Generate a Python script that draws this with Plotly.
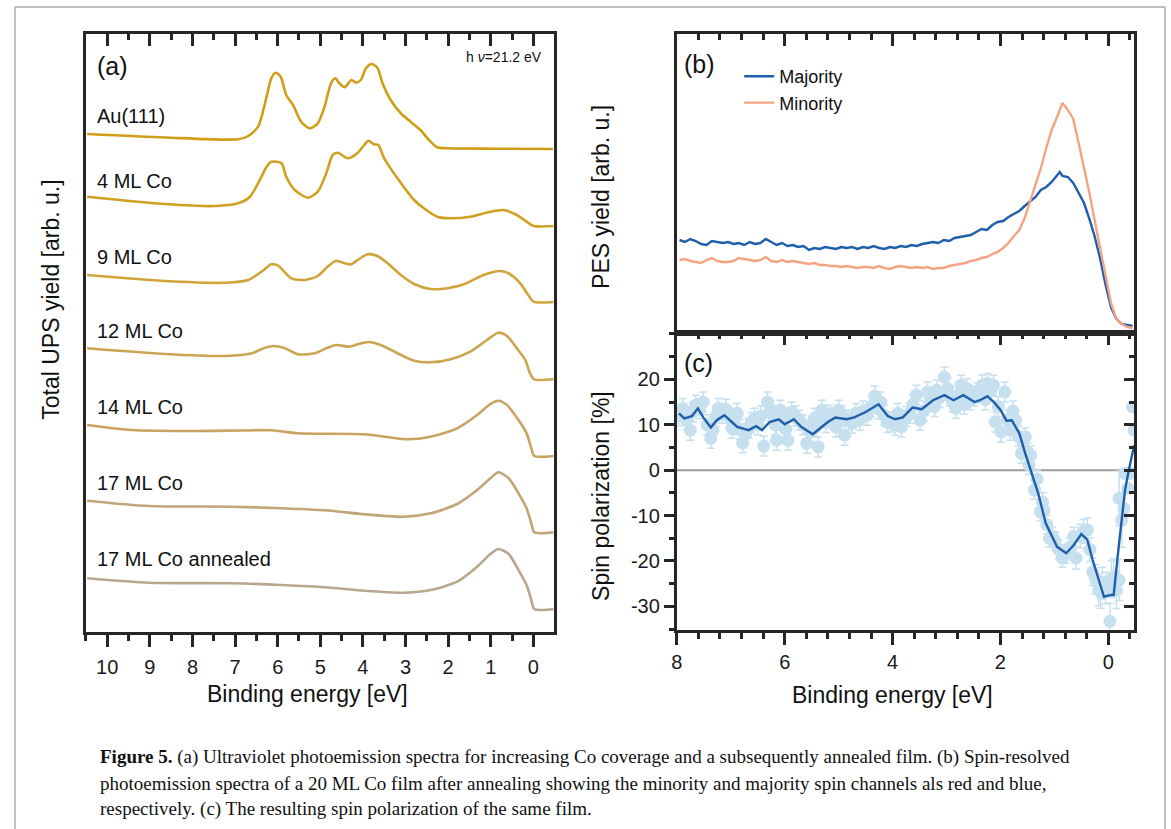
import plotly.graph_objects as go

W, H = 1171, 829

# ---------------- Panel (a): UPS spectra (arb. units) ----------------
labels_a = ["Au(111)", "4 ML Co", "9 ML Co", "12 ML Co", "14 ML Co", "17 ML Co", "17 ML Co annealed"]
colors_a = ["rgb(208,158,22)", "rgb(208,160,32)", "rgb(208,164,58)", "rgb(204,164,82)",
            "rgb(200,163,98)", "rgb(194,165,118)", "rgb(184,167,142)"]

e_au = [10.47, 8.64, 6.93, 6.69, 6.46, 6.26, 6.15, 6.05, 5.93, 5.80, 5.64, 5.45, 5.25, 5.06, 4.90, 4.75,
        4.65, 4.55, 4.43, 4.27, 4.16, 4.05, 3.93, 3.80, 3.66, 3.54, 3.35, 3.11, 2.88, 2.65, 2.45, 2.26,
        2.02, 0.86, -0.46]
y_au = [498, 494.5, 492.7, 496, 505.3, 535.3, 553.7, 559.3, 555.3, 537, 527, 510.3, 503.7, 508.7, 525.3,
        548.7, 553.7, 548.7, 544.7, 552, 549.3, 552, 563.7, 568, 564.3, 548.7, 532, 518.7, 510.3, 502, 492,
        484.7, 483.7, 483.3, 483]

e_4 = [10.47, 8.64, 7.47, 6.93, 6.65, 6.42, 6.26, 6.15, 5.91, 5.80, 5.60, 5.29, 5.06, 4.86, 4.71, 4.59,
       4.36, 4.12, 3.97, 3.87, 3.74, 3.64, 3.50, 3.19, 2.80, 2.57, 2.26, 1.94, 1.48, 1.01, 0.70, 0.39,
       0.16, 0.0, -0.47]
y_4 = [435.3, 428, 426, 428.7, 435.3, 452, 465.3, 470.3, 468.7, 455.3, 442, 434.3, 440.3, 458.7, 477,
       479.3, 473.7, 479.3, 487, 491.3, 487.7, 487, 473.7, 453.7, 432, 423.7, 415.3, 413.7, 415.3, 420.3,
       422, 417, 410.3, 406, 406]

e_9 = [10.47, 8.64, 7.24, 6.69, 6.38, 6.15, 5.99, 5.68, 5.37, 5.06, 4.83, 4.63, 4.43, 4.28, 4.09, 3.89,
       3.66, 3.42, 3.11, 2.80, 2.41, 2.02, 1.63, 1.17, 0.78, 0.54, 0.31, 0.12, 0.0, -0.47]
y_9 = [357, 351, 349.3, 352, 360.3, 367.7, 366.3, 353.7, 352, 356, 365.3, 371.3, 368.7, 367.7, 373, 377.7,
       376, 368.7, 357, 348, 343, 343.7, 347.7, 357, 361, 357.7, 348.7, 337, 330.3, 330]

e_12 = [10.47, 8.64, 7.24, 6.61, 6.30, 6.10, 5.83, 5.52, 5.13, 4.86, 4.63, 4.32, 4.12, 3.87, 3.58, 3.19,
        2.80, 2.41, 1.94, 1.48, 1.09, 0.82, 0.62, 0.39, 0.19, 0.08, -0.02, -0.47]
y_12 = [283.7, 278, 276, 278.7, 284.3, 286, 283.7, 277.7, 278.7, 283.7, 287, 285.3, 287.7, 290, 287, 278.7,
        271.3, 269.7, 272.7, 280.3, 292, 299.3, 296, 283.7, 272, 258.7, 252.7, 252.7]

e_14 = [10.47, 9.42, 7.86, 6.15, 5.52, 3.97, 2.96, 2.41, 1.79, 1.32, 1.01, 0.82, 0.62, 0.35, 0.16, 0.06,
        -0.02, -0.47]
y_14 = [207, 202, 201, 201.7, 198.7, 197.7, 192.7, 195.3, 203.7, 217, 228, 231.3, 227, 212, 198.7, 185.3,
        176, 176]

e_17 = [10.47, 9.03, 7.08, 5.91, 4.75, 3.97, 3.03, 2.41, 1.79, 1.32, 1.01, 0.82, 0.58, 0.35, 0.16, 0.05,
        -0.02, -0.47]
y_17 = [131.3, 126, 125.3, 123.7, 121.3, 117.7, 115.3, 118.7, 128, 142, 153.7, 159.7, 153.7, 138.7, 123.7,
        108.7, 99.7, 99.7]

e_17a = [10.47, 9.03, 7.08, 5.91, 4.75, 3.97, 3.03, 2.41, 1.79, 1.32, 1.01, 0.82, 0.58, 0.35, 0.16, 0.05,
         -0.02, -0.47]
y_17a = [53.7, 49.3, 48.7, 47, 44.3, 41.3, 39.3, 42, 50.3, 65.3, 78, 83, 78, 62, 47, 32, 23, 22.7]

spectra_a = [(e_au, y_au), (e_4, y_4), (e_9, y_9), (e_12, y_12), (e_14, y_14), (e_17, y_17), (e_17a, y_17a)]
label_y_a = [116, 181, 257, 331, 407, 483, 559]   # label rows (pixels from top)

# ---------------- Panel (b): spin-resolved spectra ----------------
e_b = [7.95, 7.85, 7.75, 7.65, 7.55, 7.45, 7.35, 7.25, 7.15, 7.05, 6.95, 6.85, 6.75, 6.65, 6.55, 6.45,
       6.35, 6.25, 6.15, 6.05, 5.95, 5.85, 5.75, 5.65, 5.55, 5.45, 5.35, 5.25, 5.15, 5.05, 4.95, 4.85,
       4.75, 4.65, 4.55, 4.45, 4.35, 4.25, 4.15, 4.05, 3.95, 3.85, 3.75, 3.65, 3.55, 3.45, 3.35, 3.25,
       3.15, 3.05, 2.95, 2.85, 2.75, 2.65, 2.55, 2.45, 2.35, 2.25, 2.15, 2.05, 1.95, 1.85, 1.75, 1.65,
       1.55, 1.45, 1.35, 1.25, 1.15, 1.05, 0.95, 0.90, 0.85, 0.75, 0.65, 0.55, 0.45, 0.35, 0.25, 0.15,
       0.05, -0.05, -0.15, -0.25, -0.35, -0.45]
majority = [93, 91, 94, 92, 89, 88, 92, 91, 90, 91, 89, 90, 88, 91, 89, 90,
            94, 91, 88, 90, 87, 88, 86, 87, 83, 85, 84, 86, 85, 84, 86, 85,
            86, 84, 86, 85, 87, 85, 84, 86, 85, 87, 86, 88, 87, 89, 90, 91,
            90, 93, 92, 95, 96, 97, 98, 101, 104, 103, 108, 111, 112, 116, 119, 122,
            127, 132, 136, 143, 146, 151, 157, 161, 157, 156, 150, 140, 130, 114, 96, 74,
            48, 26, 14, 9, 8, 7]
minority = [73, 74, 72, 71, 70, 73, 75, 72, 71, 71, 72, 75, 74, 73, 72, 73,
            76, 72, 71, 73, 71, 72, 71, 70, 69, 70, 68, 68, 67, 67, 66, 67,
            66, 65, 66, 66, 65, 67, 65, 64, 66, 67, 66, 65, 66, 65, 66, 64,
            65, 65, 67, 68, 69, 70, 72, 73, 75, 76, 79, 81, 85, 90, 97, 103,
            115, 132, 148, 165, 185, 203, 216, 224, 230, 223, 214, 190, 166, 140, 112, 85,
            55, 30, 14, 9, 6, 5]

# ---------------- Panel (c): spin polarization ----------------
e_pol_line = [7.96, 7.86, 7.72, 7.61, 7.51, 7.37, 7.26, 7.12, 6.98, 6.88, 6.67, 6.53, 6.42, 6.28, 6.11,
              6.00, 5.83, 5.69, 5.48, 5.34, 5.20, 5.06, 4.85, 4.71, 4.50, 4.26, 4.09, 3.95, 3.81, 3.63,
              3.46, 3.25, 3.04, 2.87, 2.69, 2.48, 2.38, 2.24, 2.10, 1.99, 1.89, 1.79, 1.65, 1.54, 1.44,
              1.30, 1.16, 0.95, 0.78, 0.64, 0.50, 0.39, 0.29, 0.18, 0.08, -0.03, -0.10, -0.20, -0.31,
              -0.38, -0.48]
pol_line = [12.5, 11.4, 11.9, 13.6, 11.6, 9.4, 11.0, 12.1, 10.6, 9.5, 8.8, 9.7, 8.8, 10.6, 11.2,
            10.1, 11.2, 9.5, 7.9, 9.2, 10.6, 11.6, 11.2, 11.6, 12.8, 14.5, 11.9, 11.2, 11.6, 13.8,
            13.4, 15.4, 16.5, 15.4, 16.5, 15.0, 15.4, 16.3, 14.7, 13.1, 10.9, 11.0, 8.1, 3.7, 0.0,
            -5.1, -11.7, -16.9, -18.3, -16.5, -14.1, -15.3, -19.8, -24.2, -27.9, -27.5, -27.5, -16.1, -4.4,
            0.0, 5.5]

e_pol_pts = [7.96, 7.89, 7.82, 7.75, 7.70, 7.65, 7.58, 7.51, 7.44, 7.37, 7.33, 7.28, 7.23, 7.16, 7.09,
             7.02, 6.98, 6.93, 6.88, 6.83, 6.78, 6.72, 6.67, 6.62, 6.56, 6.50, 6.44, 6.39, 6.32, 6.27,
             6.22, 6.18, 6.15, 6.08, 6.02, 5.98, 5.94, 5.87, 5.80, 5.73, 5.66, 5.59, 5.52, 5.45, 5.42,
             5.38, 5.31, 5.24, 5.17, 5.10, 5.05, 5.00, 4.94, 4.89, 4.82, 4.75, 4.68, 4.61, 4.55, 4.47,
             4.40, 4.33, 4.26, 4.22, 4.16, 4.10, 4.05, 3.95, 3.90, 3.84, 3.80, 3.74, 3.68, 3.62, 3.56,
             3.49, 3.42, 3.35, 3.30, 3.22, 3.18, 3.12, 3.04, 2.98, 2.94, 2.89, 2.83, 2.78, 2.73, 2.67,
             2.62, 2.56, 2.48, 2.42, 2.34, 2.28, 2.24, 2.18, 2.13, 2.10, 2.04, 1.99, 1.92, 1.87, 1.82,
             1.77, 1.72, 1.67, 1.61, 1.58, 1.54, 1.50, 1.47, 1.44, 1.37, 1.32, 1.26, 1.22, 1.19, 1.14,
             1.09, 1.04, 0.99, 0.92, 0.85, 0.80, 0.72, 0.64, 0.60, 0.52, 0.46, 0.39, 0.34, 0.29, 0.24,
             0.18, 0.14, 0.11, 0.05, -0.03, -0.06, -0.10, -0.15, -0.20, -0.20, -0.25, -0.29, -0.31, -0.36,
             -0.41, -0.45, -0.48]
pol_pts = [12.0, 13.6, 11.0, 8.8, 12.8, 14.3, 13.5, 15.0, 10.0, 7.0, 8.8, 11.8, 13.6, 12.5, 13.4,
           11.5, 9.2, 10.0, 12.5, 9.0, 6.0, 8.0, 9.2, 10.5, 11.4, 10.0, 12.0, 5.3, 15.0, 13.0,
           12.1, 10.0, 6.6, 13.2, 11.5, 9.0, 6.6, 12.8, 12.0, 11.0, 10.0, 5.9, 8.5, 11.4, 9.5,
           5.1, 13.2, 10.5, 12.1, 11.5, 9.5, 13.2, 12.0, 7.7, 11.0, 10.3, 12.5, 11.0, 13.0, 12.1,
           14.0, 16.3, 13.5, 15.0, 12.1, 10.5, 10.6, 9.9, 12.5, 9.5, 11.0, 11.8, 12.5, 14.5, 16.5,
           11.0, 13.0, 17.2, 15.5, 14.0, 17.6, 16.0, 20.5, 18.0, 16.3, 15.0, 13.6, 16.5, 18.7, 14.5,
           17.9, 15.5, 16.3, 17.0, 18.7, 15.5, 19.1, 17.5, 18.7, 10.6, 14.0, 8.4, 17.2, 11.0, 8.8,
           13.0, 11.0, 7.5, 3.7, 6.0, 7.3, 4.0, 1.1, 3.3, -4.4, -2.0, -9.2, -7.0, -8.8, -12.0,
           -15.0, -14.5, -15.7, -17.5, -19.4, -18.5, -17.0, -14.6, -19.4, -14.5, -13.5, -13.2, -17.5, -22.4, -24.0,
           -26.4, -27.0, -24.9, -26.0, -33.3, -24.0, -23.5, -26.5, -24.2, -6.2, -11.0, -8.4, -0.7, -4.0,
           -0.7, 13.9, 8.8]
pol_err = [2.2] * 110 + [2.0] * 18 + [2.4, 2.6, 2.6, 2.6, 2.6, 3.0, 3.2, 3.5, 3.5, 3.5, 3.5, 4.0, 4.0, 4.0, 4.0,
                                      4.5, 6.0, 6.0]
zero_ref_e = [8.0, -0.25]
zero_ref_y = [0, 0]

pol_tickvals = [-30, -20, -10, 0, 10, 20]
pol_ticktext = ["-30", "-20", "-10", "0", "10", "20"]

# ---------------- figure ----------------
FRAME = "rgb(38,38,38)"
FONT = "Liberation Sans, Arial, sans-serif"
PURE_MAJ = "rgb(31,94,168)"
PURE_MIN = "rgb(246,163,132)"
DOT = "rgb(199,224,240)"


def dom_x(a, b):
    return [a / W, b / W]


def dom_y(top, bottom):
    return [1 - bottom / H, 1 - top / H]


fig = go.Figure()

# panel (a)
for (e, y), name, col in zip(spectra_a, labels_a, colors_a):
    fig.add_trace(go.Scatter(x=e, y=y, mode="lines", name=name, showlegend=False,
                             line=dict(color=col, width=2.6, shape="spline", smoothing=0.7),
                             xaxis="x", yaxis="y"))
fig.add_trace(go.Scatter(x=[None], y=[None], xaxis="x5", yaxis="y", showlegend=False, hoverinfo="skip"))

# panel (b)
fig.add_trace(go.Scatter(x=e_b, y=majority, mode="lines", name="Majority",
                         line=dict(color=PURE_MAJ, width=2.4), xaxis="x2", yaxis="y2"))
fig.add_trace(go.Scatter(x=e_b, y=minority, mode="lines", name="Minority",
                         line=dict(color=PURE_MIN, width=2.4), xaxis="x2", yaxis="y2"))

# panel (c)
fig.add_trace(go.Scatter(x=zero_ref_e, y=zero_ref_y, mode="lines", showlegend=False,
                         line=dict(color="rgb(155,155,155)", width=2), xaxis="x3", yaxis="y3",
                         hoverinfo="skip"))
fig.add_trace(go.Scatter(x=e_pol_pts, y=pol_pts, mode="markers", showlegend=False,
                         marker=dict(color=DOT, size=13),
                         error_y=dict(type="data", array=pol_err, color=DOT, thickness=1.5, width=4),
                         xaxis="x3", yaxis="y3"))
fig.add_trace(go.Scatter(x=e_pol_line, y=pol_line, mode="lines", showlegend=False,
                         line=dict(color=PURE_MAJ, width=2.4), xaxis="x3", yaxis="y3"))
fig.add_trace(go.Scatter(x=[None], y=[None], xaxis="x4", yaxis="y3", showlegend=False, hoverinfo="skip"))
fig.add_trace(go.Scatter(x=[None], y=[None], xaxis="x3", yaxis="y4", showlegend=False, hoverinfo="skip"))

frame = dict(showline=True, linecolor=FRAME, linewidth=3, mirror=True, showgrid=False, zeroline=False)
tickstyle = dict(tickcolor=FRAME, tickwidth=2.5, tickfont=dict(family=FONT, size=20, color="#1a1a1a"))

xa_dom = dom_x(80.3, 550.7)
xb_dom = dom_x(674.3, 1134)

fig.update_layout(
    width=W, height=H, autosize=False,
    margin=dict(l=0, r=0, t=0, b=0),
    paper_bgcolor="white", plot_bgcolor="white",
    font=dict(family=FONT, color="#111"),
    showlegend=True,
    legend=dict(x=737 / W, y=1 - 58 / H, xanchor="left", yanchor="top",
                bgcolor="rgba(0,0,0,0)", font=dict(family=FONT, size=18, color="#111")),
    # (a)
    xaxis=dict(domain=xa_dom, anchor="y", side="bottom", range=[10.5, -0.48],
               ticks="outside", ticklen=12, dtick=1, tick0=0, ticklabelstandoff=3,
               minor=dict(dtick=0.5, ticks="outside", ticklen=6, tickwidth=2.5, tickcolor=FRAME),
               **frame, **tickstyle),
    xaxis5=dict(overlaying="x", anchor="y", side="top", range=[10.5, -0.48],
                ticks="inside", ticklen=12, dtick=1, tick0=0, showticklabels=False,
                minor=dict(dtick=0.5, ticks="inside", ticklen=6, tickwidth=2.5, tickcolor=FRAME),
                showline=False, showgrid=False, zeroline=False, tickcolor=FRAME, tickwidth=2.5),
    yaxis=dict(domain=dom_y(34, 632), anchor="x", range=[0, 598], ticks="", showticklabels=False,
               **frame),
    # (b)
    xaxis2=dict(domain=xb_dom, anchor="y2", side="top", range=[8, -0.48],
                ticks="inside", ticklen=12, dtick=2, tick0=0, showticklabels=False,
                minor=dict(dtick=0.4, ticks="inside", ticklen=6, tickwidth=2.5, tickcolor=FRAME),
                **frame, tickcolor=FRAME, tickwidth=2.5),
    yaxis2=dict(domain=dom_y(34, 333), anchor="x2", range=[0, 299], ticks="", showticklabels=False,
                **frame),
    # (c)
    xaxis3=dict(domain=xb_dom, anchor="y3", side="bottom", range=[8, -0.48],
                ticks="outside", ticklen=12, dtick=2, tick0=0,
                minor=dict(dtick=0.4, ticks="outside", ticklen=6, tickwidth=2.5, tickcolor=FRAME),
                **frame, **tickstyle),
    xaxis4=dict(overlaying="x3", anchor="y3", side="top", range=[8, -0.48],
                ticks="inside", ticklen=12, dtick=2, tick0=0, showticklabels=False,
                minor=dict(dtick=0.4, ticks="inside", ticklen=6, tickwidth=2.5, tickcolor=FRAME),
                showline=False, showgrid=False, zeroline=False, tickcolor=FRAME, tickwidth=2.5),
    yaxis3=dict(domain=dom_y(333, 629.5), anchor="x3", range=[-35.1, 30.2],
                ticks="outside", ticklen=10, tickmode="array", tickvals=pol_tickvals, ticktext=pol_ticktext,
                minor=dict(dtick=5, tick0=0, ticks="outside", ticklen=5, tickwidth=2.5, tickcolor=FRAME),
                **frame, **tickstyle),
    yaxis4=dict(overlaying="y3", anchor="x3", side="right", range=[-35.1, 30.2],
                ticks="inside", ticklen=10, tickmode="array", tickvals=pol_tickvals, showticklabels=False,
                minor=dict(dtick=5, tick0=0, ticks="inside", ticklen=5, tickwidth=2.5, tickcolor=FRAME),
                showline=False, showgrid=False, zeroline=False, tickcolor=FRAME, tickwidth=2.5),
)

ann = []
# curve labels in (a)
for name, py in zip(labels_a, label_y_a):
    ann.append(dict(text=name, xref="paper", yref="paper", x=89 / W, y=1 - py / H,
                    xanchor="left", yanchor="middle", showarrow=False,
                    font=dict(family=FONT, size=20, color="#111")))
# panel letters
for txt, x, y in [("(a)", 89, 66), ("(b)", 679, 64), ("(c)", 679, 363)]:
    ann.append(dict(text=txt, xref="paper", yref="paper", x=x / W, y=1 - y / H,
                    xanchor="left", yanchor="middle", showarrow=False,
                    font=dict(family=FONT, size=25, color="#111")))
ann.append(dict(text="h <i>ν</i>=21.2 eV", xref="paper", yref="paper", x=541 / W, y=1 - 57 / H,
                xanchor="right", yanchor="middle", showarrow=False,
                font=dict(family=FONT, size=14, color="#111")))
# axis titles
ann.append(dict(text="Total UPS yield [arb. u.]", xref="paper", yref="paper", x=45 / W, y=1 - 300 / H,
                textangle=-90, xanchor="center", yanchor="middle", showarrow=False,
                font=dict(family=FONT, size=23, color="#111")))
ann.append(dict(text="PES yield [arb. u.]", xref="paper", yref="paper", x=598 / W, y=1 - 197 / H,
                textangle=-90, xanchor="center", yanchor="middle", showarrow=False,
                font=dict(family=FONT, size=23, color="#111")))
ann.append(dict(text="Spin polarization [%]", xref="paper", yref="paper", x=598 / W, y=1 - 496 / H,
                textangle=-90, xanchor="center", yanchor="middle", showarrow=False,
                font=dict(family=FONT, size=23, color="#111")))
ann.append(dict(text="Binding energy [eV]", xref="paper", yref="paper", x=303 / W, y=1 - 694 / H,
                xanchor="center", yanchor="middle", showarrow=False,
                font=dict(family=FONT, size=23, color="#111")))
ann.append(dict(text="Binding energy [eV]", xref="paper", yref="paper", x=891 / W, y=1 - 695 / H,
                xanchor="center", yanchor="middle", showarrow=False,
                font=dict(family=FONT, size=23, color="#111")))
# caption
caption = [
    "<b>Figure 5.</b> (a) Ultraviolet photoemission spectra for increasing Co coverage and a subsequently annealed film. (b) Spin-resolved",
    "photoemission spectra of a 20 ML Co film after annealing showing the minority and majority spin channels als red and blue,",
    "respectively. (c) The resulting spin polarization of the same film.",
]
for txt, py in zip(caption, [757, 783, 809]):
    ann.append(dict(text=txt, xref="paper", yref="paper", x=92 / W, y=1 - py / H,
                    xanchor="left", yanchor="middle", showarrow=False,
                    font=dict(family="Liberation Serif, Times New Roman, serif", size=19, color="#111")))
fig.update_layout(annotations=ann)

# outer page frame
fig.update_layout(shapes=[
    dict(type="line", xref="paper", yref="paper", x0=9 / W, x1=9 / W, y0=0, y1=1 - 7 / H,
         line=dict(color="rgb(170,170,170)", width=1.5)),
    dict(type="line", xref="paper", yref="paper", x0=9 / W, x1=1165 / W, y0=1 - 7 / H, y1=1 - 7 / H,
         line=dict(color="rgb(170,170,170)", width=1.5)),
    dict(type="line", xref="paper", yref="paper", x0=1165 / W, x1=1165 / W, y0=0, y1=1 - 7 / H,
         line=dict(color="rgb(170,170,170)", width=1.5)),
])

fig.write_html("out.html", post_script="document.body.style.margin='0px';")
